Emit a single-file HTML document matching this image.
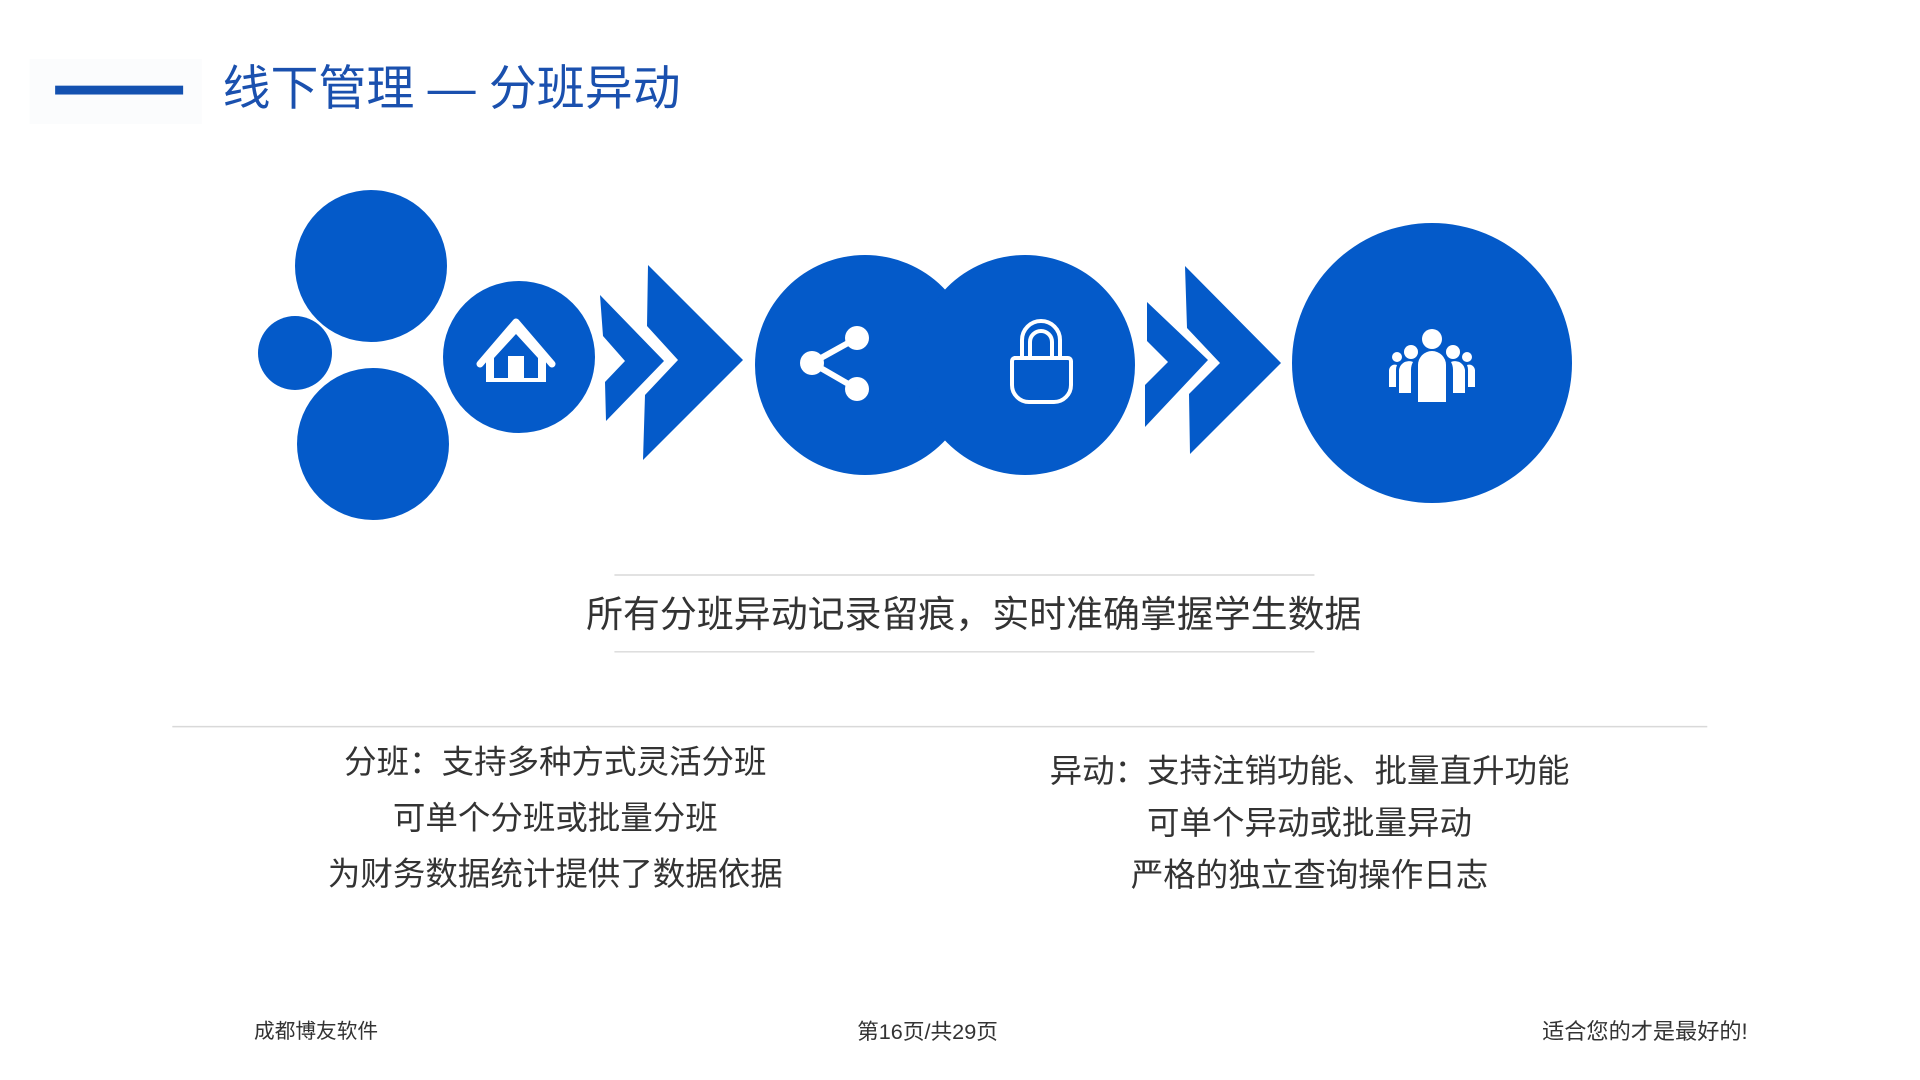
<!DOCTYPE html>
<html><head><meta charset="utf-8"><style>
html,body{margin:0;padding:0;background:#fff;}
body{width:1920px;height:1080px;position:relative;overflow:hidden;font-family:"Liberation Sans","Noto Sans CJK SC",sans-serif;}
#w{position:absolute;left:0;top:0;width:1920px;height:1080px;transform:scale(0.9846);transform-origin:0 0;}
.t{position:absolute;white-space:nowrap;color:#333;}
</style></head><body><div id="w">
<div style="position:absolute;left:30px;top:60px;width:175px;height:66px;background:#fbfcfd;"></div>
<div style="position:absolute;left:56px;top:87px;width:130px;height:9px;background:#1451b0;"></div>
<div class="t" style="left:226px;top:60px;font-size:48.7px;line-height:60px;color:#1a50ae;">线下管理 — 分班异动</div>
<svg width="1920" height="1080" style="position:absolute;left:0;top:0">
<g stroke="#d9d9d9" stroke-width="1.5">
<line x1="624" y1="584" x2="1335" y2="584"/>
<line x1="624" y1="662" x2="1335" y2="662"/>
<line x1="175" y1="738" x2="1734" y2="738"/>
</g>
</svg>
<div class="t" style="left:989px;top:602px;transform:translateX(-50%);font-size:37.5px;line-height:44px;">所有分班异动记录留痕，实时准确掌握学生数据</div>
<div class="t" style="left:564px;top:745px;transform:translateX(-50%);font-size:33px;line-height:57px;text-align:center;">分班：支持多种方式灵活分班<br>可单个分班或批量分班<br>为财务数据统计提供了数据依据</div>
<div class="t" style="left:1330px;top:756px;transform:translateX(-50%);font-size:33px;line-height:53px;text-align:center;">异动：支持注销功能、批量直升功能<br>可单个异动或批量异动<br>严格的独立查询操作日志</div>
<div class="t" style="left:258px;top:1035px;font-size:21px;line-height:26px;">成都博友软件</div>
<div class="t" style="left:942px;top:1035px;transform:translateX(-50%);font-size:22px;line-height:26px;">第16页/共29页</div>
<div class="t" style="right:145px;top:1035px;font-size:22.5px;line-height:26px;">适合您的才是最好的!</div>
</div>
<svg width="1920" height="1080" style="position:absolute;left:0;top:0">
<g fill="#045ac9">
<circle cx="371" cy="266" r="76"/>
<circle cx="295" cy="353" r="37"/>
<circle cx="373" cy="444" r="76"/>
<circle cx="519" cy="357" r="76"/>
<polygon points="600,295 664,361 606,421 605,382 625,361 603,336"/>
<polygon points="648,265 743,360 643,460 645,395 678,360 647,326"/>
<circle cx="865" cy="365" r="110"/>
<circle cx="1025" cy="365" r="110"/>
<polygon points="1147,302 1208,360 1145,427 1145,385 1168,362 1147,341"/>
<polygon points="1185,266 1281,363 1190,454 1189,394 1220,363 1187,328"/>
<circle cx="1432" cy="363" r="140"/>
</g>
<g transform="translate(-8,-6)">
<polyline points="488,370 524,328 560,370" fill="none" stroke="#fff" stroke-width="7" stroke-linejoin="round" stroke-linecap="round"/>
<path d="M494,366 L524,332 L554,366 L554,388 L494,388 Z" fill="#fff"/>
<rect x="502" y="364" width="44" height="20" fill="#045ac9"/>
<path d="M502,364 L524,340 L546,364 Z" fill="#045ac9"/>
<rect x="516" y="362" width="16" height="22" fill="#fff"/>
</g>
<g stroke="#fff" stroke-width="6"><line x1="857" y1="338" x2="812" y2="363"/><line x1="812" y1="363" x2="857" y2="389"/></g>
<g fill="#fff"><circle cx="857" cy="338" r="12"/><circle cx="812" cy="363" r="12"/><circle cx="857" cy="389" r="12"/></g>
<g fill="none" stroke="#fff" stroke-width="4">
<path d="M1022,358 V340 a19,19 0 0 1 38,0 V358"/>
<path d="M1030,358 V342 a11,11 0 0 1 22,0 V358"/>
<path d="M1014,358 H1068 a3,3 0 0 1 3,3 V385 a17,17 0 0 1 -17,17 H1029 a17,17 0 0 1 -17,-17 V361 a3,3 0 0 1 3,-3 Z"/>
</g>
<g fill="#fff">
<circle cx="1432" cy="339" r="10"/>
<path d="M1418,402 V365 a14,14 0 0 1 28,0 V402 Z"/>
<circle cx="1411" cy="352" r="7"/><circle cx="1453" cy="352" r="7"/>
<path d="M1399,393 V372 a10,10 0 0 1 14,-10 a16,16 0 0 0 -2,8 V393 Z"/>
<path d="M1465,393 V372 a10,10 0 0 0 -14,-10 a16,16 0 0 1 2,8 V393 Z"/>
<circle cx="1397" cy="357" r="5"/><circle cx="1467" cy="357" r="5"/>
<path d="M1389,387 V370 a6,6 0 0 1 8,-5 a12,12 0 0 0 -1,5 V387 Z"/>
<path d="M1475,387 V370 a6,6 0 0 0 -8,-5 a12,12 0 0 1 1,5 V387 Z"/>
</g>
</svg>
</body></html>
